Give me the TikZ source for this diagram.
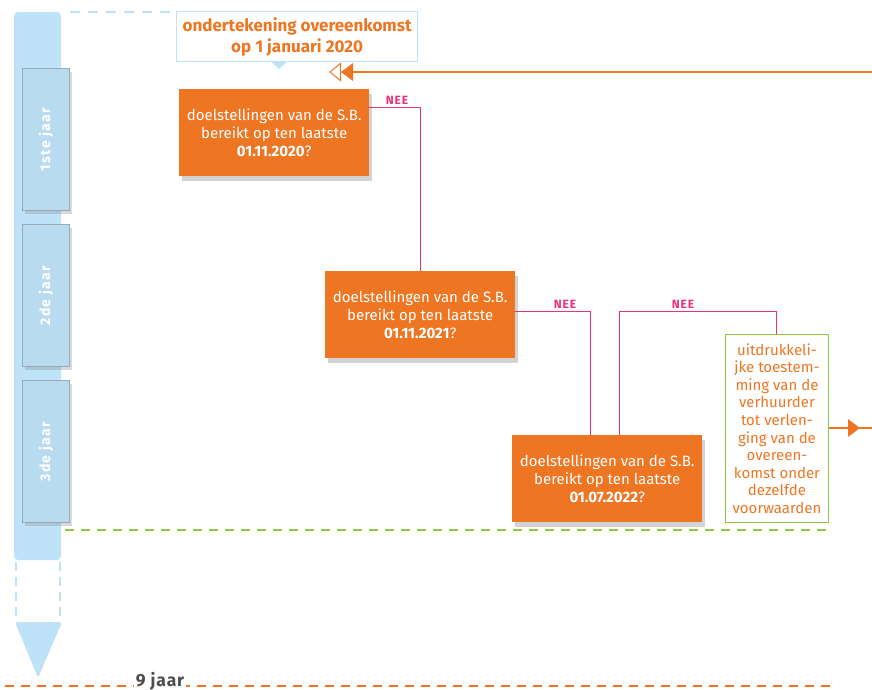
\documentclass[tikz,border=0pt]{standalone}
\usepackage{fontspec}
\setmainfont{Fira Sans}
\usetikzlibrary{shadows,calc}
\definecolor{obox}{HTML}{EE7623}
\definecolor{nee}{HTML}{E8337A}
\definecolor{barblue}{HTML}{BEE2F7}
\definecolor{tabblue}{HTML}{B9DBF0}
\definecolor{tabedge}{HTML}{98AAB6}
\definecolor{grn}{HTML}{8DC63F}
\definecolor{txtgrey}{HTML}{4D4D4D}
\tikzset{
  qbox/.style={fill=obox, text=white, minimum width=190pt, minimum height=87pt, anchor=north west,
    align=center, inner sep=0pt, font=\fontsize{15}{18}\selectfont,
    drop shadow={shadow xshift=3pt, shadow yshift=-5pt, opacity=0.35}},
  tabbox/.style={fill=tabblue, draw=tabedge, line width=1pt, minimum width=47pt, minimum height=142pt,
    anchor=north west, inner sep=0pt,
    drop shadow={shadow xshift=2pt, shadow yshift=-3pt, opacity=0.3}},
  tablabel/.style={text=white, rotate=90, font=\fontsize{14}{16}\selectfont\bfseries\addfontfeatures{LetterSpace=10}},
  neeline/.style={draw=nee, line width=1pt},
  neelabel/.style={text=nee, font=\fontsize{12}{13}\selectfont\bfseries\addfontfeatures{LetterSpace=8}, anchor=base, inner sep=0pt},
}
\begin{document}
\begin{tikzpicture}[x=1pt,y=-1pt]
\useasboundingbox (0,0) rectangle (872,689);
% timeline bar
\fill[barblue, rounded corners=4pt] (14,12) rectangle (61,560);
\draw[barblue, line width=1.2pt, dash pattern=on 9pt off 6pt] (16,562) -- (16,622);
\draw[barblue, line width=1.2pt, dash pattern=on 9pt off 6pt] (60,562) -- (60,622);
\fill[barblue, rounded corners=3pt] (15,622) -- (62,622) -- (38,678) -- cycle;
\draw[barblue, line width=1.2pt, dash pattern=on 10pt off 8pt] (70,12) -- (176,12);
% year tabs
\node[tabbox] (t1) at (22,68) {};
\node[tablabel] at (t1.center) {1ste jaar};
\node[tabbox] (t2) at (22,224) {};
\node[tablabel] at (t2.center) {2de jaar};
\node[tabbox] (t3) at (22,380) {};
\node[tablabel] at (t3.center) {3de jaar};
% title
\node[draw=barblue, line width=1.2pt, fill=white, minimum width=241pt, minimum height=50pt, anchor=north west,
  inner sep=0pt, align=center, text=obox, font=\fontsize{17}{21}\selectfont\bfseries] (title) at (176,11)
  {ondertekening overeenkomst\\op 1 januari 2020};
\fill[barblue] (271,61.5) -- (287,61.5) -- (279,69) -- cycle;
% incoming arrow
\coordinate (inR) at (872,72);
\coordinate (inL) at (353,72);
\draw[obox, line width=1.2pt] (inR) -- (inL);
\fill[obox] (341,72) -- (353,63) -- (353,81) -- cycle;
\draw[obox, line width=1pt, fill=white] (330,72) -- (340.5,63.5) -- (340.5,80.5) -- cycle;
% question boxes
\node[qbox] (b1) at (179,89) {doelstellingen van de S.B.\\bereikt op ten laatste\\\textbf{01.11.2020}?};
\node[qbox] (b2) at (325,271) {doelstellingen van de S.B.\\bereikt op ten laatste\\\textbf{01.11.2021}?};
\node[qbox] (b3) at (512,435) {doelstellingen van de S.B.\\bereikt op ten laatste\\\textbf{01.07.2022}?};
% green box
\node[draw=grn, line width=1pt, fill=white, minimum width=103pt, minimum height=188pt, anchor=north west,
  inner sep=0pt, align=center, text=obox, font=\fontsize{15}{17.6}\selectfont] (g) at (725,334)
  {uitdrukkeli-\\jke toestem-\\ming van de\\verhuurder\\tot verlen-\\ging van de\\overeen-\\komst onder\\dezelfde\\voorwaarden};
% NEE connectors
\draw[neeline] (b1.east |- 0,107) -| (b2.north);
\node[neelabel] at (397,104.5) {NEE};
\draw[neeline] (b2.east |- 0,311) -| (b3.north -| 590,0);
\node[neelabel] at (565,308.5) {NEE};
\draw[neeline] (b3.north -| 619,0) |- (776,311) -- (g.north -| 776,0);
\node[neelabel] at (683,308.5) {NEE};
% outgoing arrow
\coordinate (outR) at (872,428);
\draw[obox, line width=1.2pt] (g.east |- 0,428) -- (outR);
\fill[obox] (860,428) -- (848,419) -- (848,437) -- cycle;
% dashed lines
\draw[grn, line width=1.2pt, dash pattern=on 9pt off 7pt] (65,530) -- (833,530);
\draw[obox, line width=1.2pt, dash pattern=on 9pt off 7pt] (5,686) -- (835,686);
\node[fill=white, text=txtgrey, inner sep=1.5pt, font=\fontsize{17.5}{19}\selectfont\bfseries\addfontfeatures{LetterSpace=5}, anchor=base] (nine) at (160,686) {9 jaar};
\end{tikzpicture}
\end{document}
